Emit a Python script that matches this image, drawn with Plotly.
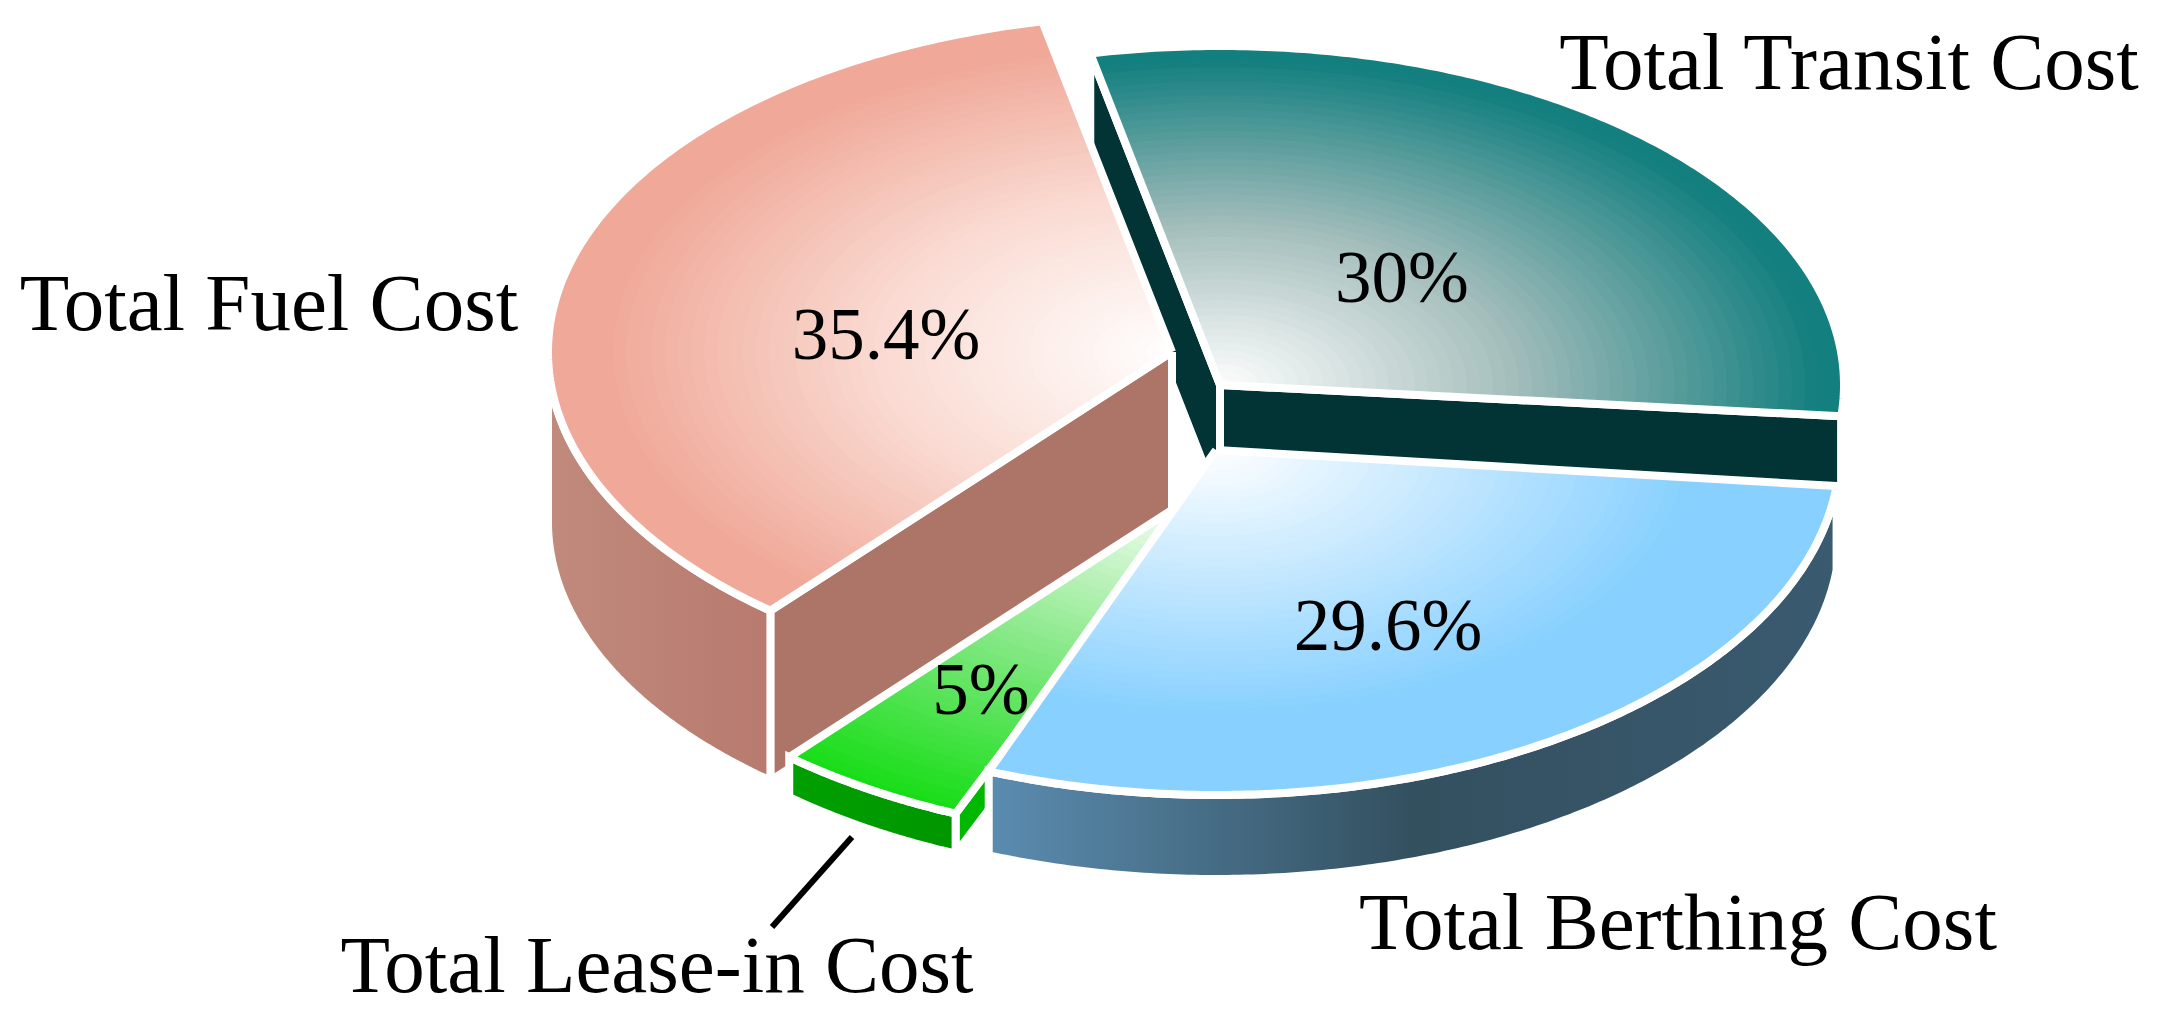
import numpy as np
import plotly.graph_objects as go

# Chart data
categories = ['Total Transit Cost', 'Total Berthing Cost', 'Total Lease-in Cost', 'Total Fuel Cost']
shares = [30, 29.6, 5, 35.4]

# Colours for each slice, same order as the data
rim_colors = ['#137f7f', '#87d0ff', '#17dd17', '#f0a898']
mid_colors = ['#a3bdbb', '#c3e7ff', '#8be98b', '#fadcd4']
edge_colors = ['#023435', '#023435', '#00b800', '#ad7468']
wall_colors = [
    ['#023435', '#023435'],
    ['#5b8cb0', '#33505f', '#3a5a70'],
    ['#00a000', '#009600'],
    ['#c08a7c', '#b87a6e'],
]
# how far out the gradient reaches its full colour
grad_reach = [0.97, 0.78, 1.0, 0.92]

# Layout of the exploded pie, in page pixels
start_angle = -12
rx = 624
ry = [339, 345, 345, 338]
centres = [(1220, 385), (1216, 450), (1195, 495), (1172, 352)]
depths = [121, 84, 40, 170]
# small corrections to the drawn end angles of each slice
angle_trim = [(0, -0.7), (0, -1.2), (0, 0), (-0.5, 0)]
share_pos = [(1402, 284), (1388, 632), (981, 696), (886, 341)]
label_pos = [(1849, 69), (1678, 929), (657, 972), (269, 310)]
leader_x = [852, 772]
leader_y = [837, 927]

font = 'Liberation Serif'
label_size = 81
share_size = 73
stroke = 8
steps = 48


def rgb(c):
    return np.array([int(c[i:i + 2], 16) for i in (1, 3, 5)], dtype=float)


def mix(i, t):
    # white -> mid -> rim colour
    white_c = np.array([255.0, 255.0, 255.0])
    if t < 0.5:
        v = white_c + (rgb(mid_colors[i]) - white_c) * t * 2
    else:
        v = rgb(mid_colors[i]) + (rgb(rim_colors[i]) - rgb(mid_colors[i])) * (t - 0.5) * 2
    return 'rgb(%d,%d,%d)' % tuple(v.round())


def arc(cx, cy, b, a0, a1, n=180):
    ang = np.radians(np.linspace(a0, a1, n))
    return cx + rx * np.sin(ang), cy - b * np.cos(ang)


fig = go.Figure()


def poly(x, y, line, **kw):
    fig.add_trace(go.Scatter(x=list(x), y=list(y), mode='lines', fill='toself',
                             line=dict(simplify=False, **line),
                             hoverinfo='skip', showlegend=False, **kw))


# slice angles come from the shares
angles = {}
a = start_angle
for i, s in enumerate(shares):
    angles[i] = (a + angle_trim[i][0], a + s * 3.6 + angle_trim[i][1])
    a += s * 3.6

white = dict(color='white', width=stroke)

# back to front: transit, fuel, lease, berthing
for i in [0, 3, 2, 1]:
    a0, a1 = angles[i]
    cx, cy = centres[i]
    d = depths[i]
    b = ry[i]

    # cut faces that look towards the viewer
    for ang, sign in ((a0, -1), (a1, 1)):
        if sign * np.sin(np.radians(ang)) > 0:
            ex, ey = arc(cx, cy, b, ang, ang, 1)
            poly([cx, ex[0], ex[0], cx, cx], [cy, ey[0], ey[0] + d, cy + d, cy],
                 white, fillcolor=edge_colors[i])

    # outer wall, only the front half of the rim shows
    lo, hi = max(a0, 90), min(a1, 270)
    if hi > lo:
        ax, ay = arc(cx, cy, b, lo, hi)
        stops = wall_colors[i]
        scale = [[k / (len(stops) - 1), c] for k, c in enumerate(stops)]
        poly(np.r_[ax, ax[::-1], ax[0]], np.r_[ay, ay[::-1] + d, ay[0]],
             white, fillcolor=stops[0],
             fillgradient=dict(type='horizontal', colorscale=scale))

    # top face, white at the tip fading out to the rim colour
    ax, ay = arc(cx, cy, b, a0, a1)
    for t in np.linspace(1, 0.02, steps):
        poly(np.r_[cx, cx + t * (ax - cx), cx], np.r_[cy, cy + t * (ay - cy), cy],
             dict(width=0), fillcolor=mix(i, min(t / grad_reach[i], 1)))
    fig.add_trace(go.Scatter(x=np.r_[cx, ax, cx], y=np.r_[cy, ay, cy], mode='lines',
                             line=dict(simplify=False, **white), hoverinfo='skip', showlegend=False))

fig.add_trace(go.Scatter(x=leader_x, y=leader_y, mode='lines', hoverinfo='skip',
                         line=dict(color='black', width=6), showlegend=False))

fig.add_trace(go.Scatter(
    x=[p[0] for p in share_pos], y=[p[1] for p in share_pos], mode='text',
    text=['%g%%' % s for s in shares], textposition='middle center',
    textfont=dict(family=font, size=share_size, color='black'),
    cliponaxis=False, hoverinfo='skip', showlegend=False))
fig.add_trace(go.Scatter(
    x=[p[0] for p in label_pos], y=[p[1] for p in label_pos], mode='text',
    text=categories, textposition='middle center',
    textfont=dict(family=font, size=label_size, color='black'),
    cliponaxis=False, hoverinfo='skip', showlegend=False))

fig.update_layout(
    width=2170,
    height=1021,
    margin=dict(l=0, r=0, t=0, b=0),
    paper_bgcolor='white',
    plot_bgcolor='white',
    showlegend=False,
    xaxis=dict(range=[0, 2170], visible=False, fixedrange=True),
    yaxis=dict(range=[1021, 0], visible=False, fixedrange=True),
)

# the page body has a default margin, drop it so the figure fills the window
fig.write_html("out.html", config=dict(displayModeBar=False),
               post_script="document.body.style.margin='0';document.documentElement.style.overflow='hidden';")
